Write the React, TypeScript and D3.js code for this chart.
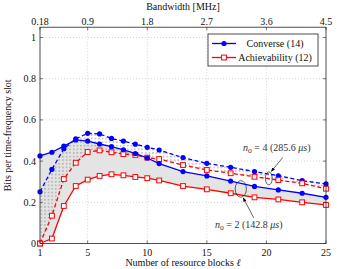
import React, { useEffect, useRef } from 'react';
import * as d3 from 'd3';

// number of resource blocks
const ell = [1, 2, 3, 4, 5, 6, 7, 8, 9, 10, 11, 13, 15, 17, 19, 21, 23, 25];
// n_o = 2
const converse2 = [0.425, 0.443, 0.473, 0.503, 0.497, 0.483, 0.47, 0.455, 0.437, 0.415, 0.388, 0.349, 0.328, 0.303, 0.277, 0.26, 0.244, 0.224];
const achiev2 = [0.0, 0.024, 0.182, 0.279, 0.31, 0.328, 0.336, 0.331, 0.323, 0.317, 0.306, 0.279, 0.263, 0.244, 0.224, 0.214, 0.2, 0.187];
// n_o = 4
const converse4 = [0.251, 0.36, 0.46, 0.508, 0.535, 0.532, 0.51, 0.497, 0.482, 0.467, 0.454, 0.417, 0.389, 0.37, 0.349, 0.329, 0.305, 0.289];
const achiev4 = [0.0, 0.135, 0.313, 0.392, 0.444, 0.452, 0.443, 0.434, 0.43, 0.417, 0.41, 0.381, 0.357, 0.341, 0.324, 0.308, 0.292, 0.266];

const xTicks = [1, 5, 10, 15, 20, 25];
const bwTicks = ['0.18', '0.9', '1.8', '2.7', '3.6', '4.5'];
const yTicks = [0, 0.2, 0.4, 0.6, 0.8, 1];

const W = 337;
const H = 269;
const FONT = 'Liberation Serif';
const FS = 10;

const App = () => {
  const ref = useRef<SVGSVGElement>(null);

  useEffect(() => {
    const svg = d3.select(ref.current);
    svg.selectAll('*').remove();

    const left = 40, right = 326, top = 27.2, bottom = 243.5;
    const x = d3.scaleLinear().domain([1, 25]).range([left, right]);
    const y = d3.scaleLinear().domain([0, 1.05]).range([bottom, top]);

    const defs = svg.append('defs');
    const pat = defs.append('pattern')
      .attr('id', 'dots')
      .attr('patternUnits', 'userSpaceOnUse')
      .attr('width', 3.6).attr('height', 3.6);
    pat.append('rect').attr('x', 1.2).attr('y', 1.2).attr('width', 1.1).attr('height', 1.1).attr('fill', '#777');

    defs.append('marker')
      .attr('id', 'arr')
      .attr('viewBox', '0 0 10 10')
      .attr('refX', 9).attr('refY', 5)
      .attr('markerWidth', 6).attr('markerHeight', 6)
      .attr('orient', 'auto')
      .append('path').attr('d', 'M0,1 L10,5 L0,9 Z').attr('fill', '#000');

    // grid
    const grid = svg.append('g').attr('stroke', '#b8b8b8').attr('stroke-width', 0.6).attr('stroke-dasharray', '1,2');
    grid.selectAll('line.v').data(xTicks.slice(1, -1)).join('line')
      .attr('x1', d => x(d)).attr('x2', d => x(d)).attr('y1', top).attr('y2', bottom);
    grid.selectAll('line.h').data(yTicks.slice(1)).join('line')
      .attr('x1', left).attr('x2', right).attr('y1', d => y(d)).attr('y2', d => y(d));

    const idx = d3.range(ell.length);
    const area = (hi: number[], lo: number[]) => d3.area<number>()
      .x(i => x(ell[i])).y0(i => y(lo[i])).y1(i => y(hi[i]))(idx);

    svg.append('path').attr('d', area(converse2, achiev2)).attr('fill', '#e4e4e4');
    svg.append('path').attr('d', area(converse4, achiev4)).attr('fill', 'url(#dots)');

    const line = (vals: number[]) => d3.line<number>().x(i => x(ell[i])).y(i => y(vals[i]))(idx);

    const series = [
      { vals: converse4, color: '#0000ff', dash: '4,2.5', mark: 'circle' },
      { vals: achiev4, color: '#ff0000', dash: '4,2.5', mark: 'square' },
      { vals: converse2, color: '#0000ff', dash: null, mark: 'circle' },
      { vals: achiev2, color: '#ff0000', dash: null, mark: 'square' },
    ];

    series.forEach(s => {
      svg.append('path').attr('d', line(s.vals)).attr('fill', 'none')
        .attr('stroke', s.color).attr('stroke-width', 1.3)
        .attr('stroke-dasharray', s.dash);
      const g = svg.append('g');
      if (s.mark === 'circle') {
        g.selectAll('circle').data(idx).join('circle')
          .attr('cx', i => x(ell[i])).attr('cy', i => y(s.vals[i])).attr('r', 2.6)
          .attr('fill', s.color);
      } else {
        g.selectAll('rect').data(idx).join('rect')
          .attr('x', i => x(ell[i]) - 2.4).attr('y', i => y(s.vals[i]) - 2.4)
          .attr('width', 4.8).attr('height', 4.8)
          .attr('fill', '#fff').attr('stroke', s.color).attr('stroke-width', 1);
      }
    });

    // axis box
    svg.append('rect').attr('x', left).attr('y', top).attr('width', right - left).attr('height', bottom - top)
      .attr('fill', 'none').attr('stroke', '#222').attr('stroke-width', 0.8);

    const ticks = svg.append('g').attr('stroke', '#222').attr('stroke-width', 0.6);
    xTicks.forEach(t => {
      ticks.append('line').attr('x1', x(t)).attr('x2', x(t)).attr('y1', bottom).attr('y2', bottom - 3);
      ticks.append('line').attr('x1', x(t)).attr('x2', x(t)).attr('y1', top).attr('y2', top + 3);
    });
    yTicks.forEach(t => {
      ticks.append('line').attr('x1', left).attr('x2', left + 3).attr('y1', y(t)).attr('y2', y(t));
      ticks.append('line').attr('x1', right).attr('x2', right - 3).attr('y1', y(t)).attr('y2', y(t));
    });

    const txt = svg.append('g').attr('font-family', FONT).attr('font-size', FS).attr('fill', '#111');
    txt.selectAll('text.xb').data(xTicks).join('text')
      .attr('x', d => x(d)).attr('y', 255.5).attr('text-anchor', 'middle').text(d => d);
    txt.selectAll('text.xt').data(xTicks).join('text')
      .attr('x', d => x(d)).attr('y', 24.5).attr('text-anchor', 'middle').text((d, i) => bwTicks[i]);
    txt.selectAll('text.y').data(yTicks).join('text')
      .attr('x', 36).attr('y', d => y(d) + 3.5).attr('text-anchor', 'end').text(d => d);

    txt.append('text').attr('x', (left + right) / 2).attr('y', 10).attr('text-anchor', 'middle').text('Bandwidth [MHz]');
    const xl = txt.append('text').attr('x', (left + right) / 2).attr('y', 265.5).attr('text-anchor', 'middle');
    xl.append('tspan').text('Number of resource blocks ');
    xl.append('tspan').attr('font-style', 'italic').text('ℓ');
    txt.append('text').attr('transform', `translate(11,${(top + bottom) / 2}) rotate(-90)`)
      .attr('text-anchor', 'middle').text('Bits per time-frequency slot');

    // annotations
    const ann = svg.append('g');
    const e4 = { cx: x(20.2), cy: y(0.316) };
    const e2 = { cx: x(17.85), cy: y(0.265) };
    ann.append('ellipse').attr('cx', e4.cx).attr('cy', e4.cy).attr('rx', 3.4).attr('ry', 6.5)
      .attr('fill', 'none').attr('stroke', '#222').attr('stroke-width', 0.7);
    ann.append('ellipse').attr('cx', e2.cx).attr('cy', e2.cy).attr('rx', 5.6).attr('ry', 8.3)
      .attr('fill', 'none').attr('stroke', '#222').attr('stroke-width', 0.7);
    ann.append('line').attr('x1', e4.cx + 14).attr('y1', e4.cy - 21).attr('x2', e4.cx + 2.5).attr('y2', e4.cy - 7)
      .attr('stroke', '#222').attr('stroke-width', 0.7).attr('marker-end', 'url(#arr)');
    ann.append('line').attr('x1', e2.cx + 13).attr('y1', e2.cy + 29).attr('x2', e2.cx + 2.5).attr('y2', e2.cy + 9)
      .attr('stroke', '#222').attr('stroke-width', 0.7).attr('marker-end', 'url(#arr)');

    const label = (lx: number, ly: number, n: string, us: string) => {
      const t = ann.append('text').attr('x', lx).attr('y', ly).attr('font-family', FONT).attr('font-size', FS).attr('fill', '#333');
      t.append('tspan').attr('font-style', 'italic').text('n');
      t.append('tspan').attr('font-size', 7.5).attr('dy', 2).text('o');
      t.append('tspan').attr('dy', -2).text(` = ${n} (${us} `);
      t.append('tspan').attr('font-style', 'italic').text('μs');
      t.append('tspan').text(')');
    };
    label(243, 151, '4', '285.6');
    label(215, 228, '2', '142.8');

    // legend
    const lg = svg.append('g');
    lg.append('rect').attr('x', 208).attr('y', 34).attr('width', 110).attr('height', 32)
      .attr('fill', '#fff').attr('stroke', '#222').attr('stroke-width', 0.8);
    const items = [
      { name: 'Converse (14)', color: '#0000ff', mark: 'circle' },
      { name: 'Achievability (12)', color: '#ff0000', mark: 'square' },
    ];
    items.forEach((it, i) => {
      const yy = 43.5 + i * 14;
      lg.append('line').attr('x1', 212).attr('x2', 236).attr('y1', yy).attr('y2', yy)
        .attr('stroke', it.color).attr('stroke-width', 1.3);
      if (it.mark === 'circle') {
        lg.append('circle').attr('cx', 224).attr('cy', yy).attr('r', 2.6).attr('fill', it.color);
      } else {
        lg.append('rect').attr('x', 221.6).attr('y', yy - 2.4).attr('width', 4.8).attr('height', 4.8)
          .attr('fill', '#fff').attr('stroke', it.color);
      }
      lg.append('text').attr('x', 275).attr('y', yy + 3.5).attr('text-anchor', 'middle')
        .attr('font-family', FONT).attr('font-size', FS).attr('fill', '#111').text(it.name);
    });
  }, []);

  return (
    <svg ref={ref} width={W} height={H} style={{ position: 'absolute', left: 0, top: 0, background: '#fff' }} />
  );
};

export default App;
